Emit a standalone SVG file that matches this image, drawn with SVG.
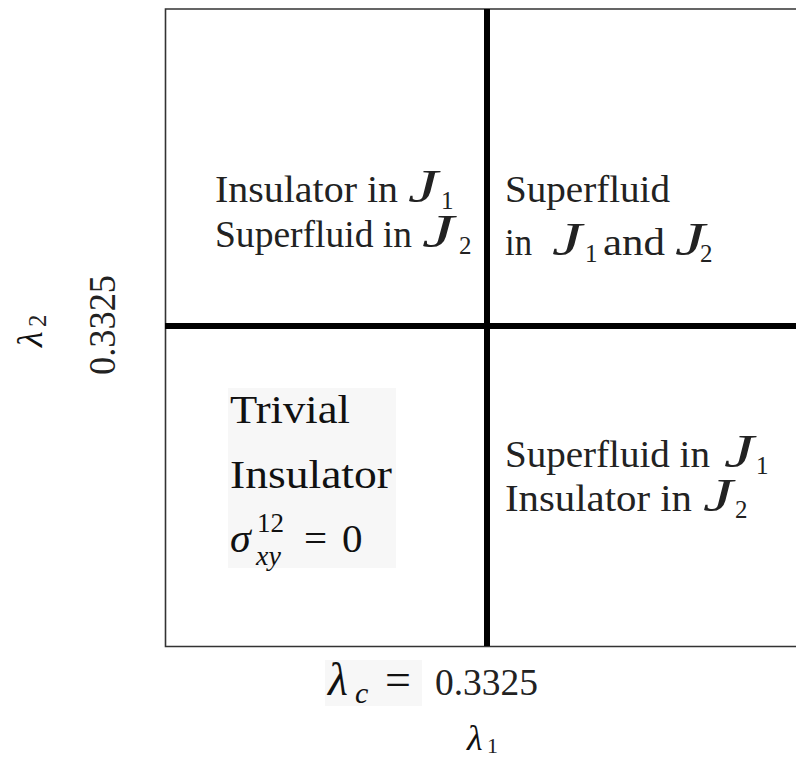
<svg xmlns="http://www.w3.org/2000/svg" width="796" height="758" viewBox="0 0 796 758">
<style>
.t{font-family:"Liberation Serif","Times New Roman",serif;fill:#222;font-size:37px}
.b{font-family:"Liberation Serif","Times New Roman",serif;fill:#111;font-size:41px}
.j{font-family:"Liberation Serif","Times New Roman",serif;font-style:italic;font-weight:normal;fill:#222;font-size:46px}
.s{font-family:"Liberation Serif","Times New Roman",serif;fill:#222;font-size:25px}
.m{font-family:"Liberation Serif","Times New Roman",serif;font-style:italic;fill:#111}
.frame{fill:none;stroke:#333;stroke-width:1.6}
.thick{stroke:#000;stroke-width:6}
.bg{fill:#f7f7f7}
</style>
<rect width="796" height="758" fill="#fff"/>
<g id="connectors">
<path class="frame" d="M796 9 H165.5 V646.5 H796"/>
<line class="thick" x1="487" y1="9" x2="487" y2="646"/>
<line class="thick" x1="165" y1="326" x2="796" y2="326"/>
</g>
<g id="top-left">
<text class="t" x="215" y="202" textLength="183" lengthAdjust="spacingAndGlyphs">Insulator in</text>
<text class="j" x="408" y="202" textLength="30" lengthAdjust="spacingAndGlyphs">J</text>
<text class="s" x="441" y="209">1</text>
<text class="t" x="215" y="247" textLength="197" lengthAdjust="spacingAndGlyphs">Superfluid in</text>
<text class="j" x="422" y="247" textLength="32" lengthAdjust="spacingAndGlyphs">J</text>
<text class="s" x="459" y="254">2</text>
</g>
<g id="top-right">
<text class="t" x="505" y="202" textLength="165" lengthAdjust="spacingAndGlyphs">Superfluid</text>
<text class="t" x="505" y="255" textLength="27" lengthAdjust="spacingAndGlyphs">in</text>
<text class="j" x="552" y="255" textLength="30" lengthAdjust="spacingAndGlyphs">J</text>
<text class="s" x="585" y="262">1</text>
<text class="t" x="603" y="255" textLength="62" lengthAdjust="spacingAndGlyphs">and</text>
<text class="j" x="675" y="255" textLength="30" lengthAdjust="spacingAndGlyphs">J</text>
<text class="s" x="700" y="262">2</text>
</g>
<g id="bottom-right">
<text class="t" x="505" y="467" textLength="205" lengthAdjust="spacingAndGlyphs">Superfluid in</text>
<text class="j" x="724" y="467" textLength="30" lengthAdjust="spacingAndGlyphs">J</text>
<text class="s" x="756" y="474">1</text>
<text class="t" x="505" y="511" textLength="187" lengthAdjust="spacingAndGlyphs">Insulator in</text>
<text class="j" x="703" y="511" textLength="30" lengthAdjust="spacingAndGlyphs">J</text>
<text class="s" x="735" y="518">2</text>
</g>
<g id="bottom-left">
<rect class="bg" x="228" y="388" width="168" height="180"/>
<text class="b" x="230" y="423" textLength="120" lengthAdjust="spacingAndGlyphs">Trivial</text>
<text class="b" x="230" y="488" textLength="162" lengthAdjust="spacingAndGlyphs">Insulator</text>
<text class="m" x="230" y="552" font-size="42">σ</text>
<text class="b" x="257" y="532" style="font-size:27px">12</text>
<text class="m" x="256" y="565" font-size="28">xy</text>
<text class="b" x="304" y="552">=</text>
<text class="b" x="342" y="552">0</text>
</g>
<g id="x-axis">
<rect class="bg" x="325" y="660" width="97" height="46"/>
<text class="m" x="328" y="695" font-size="46">λ</text>
<text class="m" x="355" y="703" font-size="30">c</text>
<text class="b" x="385" y="695" style="font-size:46px">=</text>
<text class="t" x="435" y="695" textLength="103" lengthAdjust="spacingAndGlyphs">0.3325</text>
<text class="m" x="467" y="750" font-size="36">λ</text>
<text class="s" x="487" y="753" style="font-size:22px">1</text>
</g>
<g id="y-axis">
<text class="t" transform="translate(115,325) rotate(-90)" text-anchor="middle" textLength="100" lengthAdjust="spacingAndGlyphs">0.3325</text>
<g transform="translate(42,347) rotate(-90)">
<text class="m" x="0" y="0" font-size="36">λ</text>
<text class="s" x="20" y="4">2</text>
</g>
</g>
</svg>
